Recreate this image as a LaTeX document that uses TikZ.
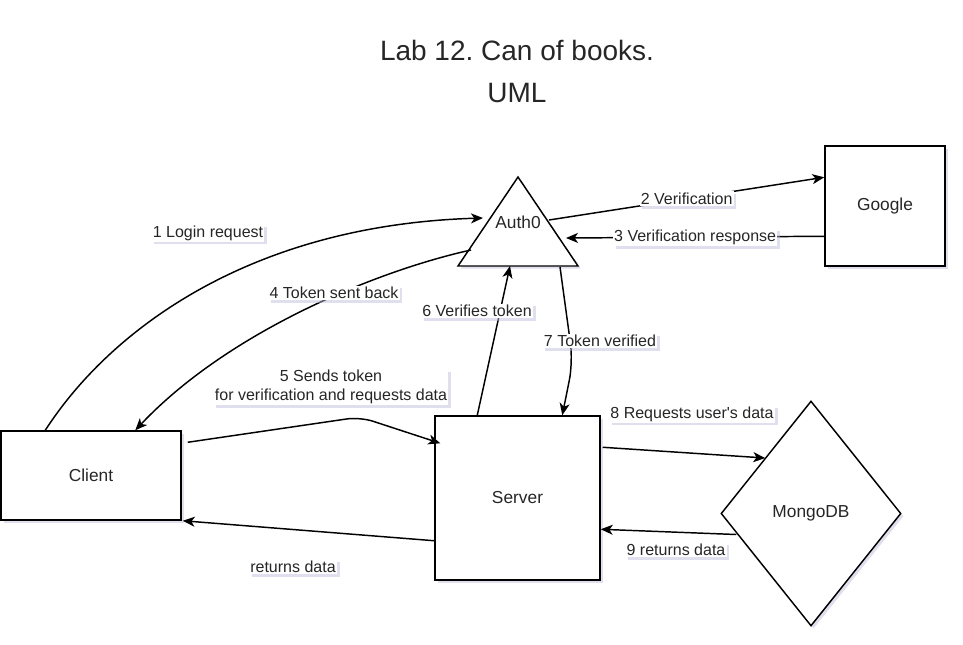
\documentclass[tikz,border=0pt]{standalone}
\usepackage{fontspec}
\setmainfont{Liberation Sans}
\usetikzlibrary{arrows.meta,shapes.geometric,shadows,calc}
\definecolor{shadowc}{RGB}{185,185,215}
\frenchspacing
\begin{document}
\begin{tikzpicture}[x=0.75pt,y=-0.75pt,
  shd/.style={drop shadow={shadow xshift=2pt,shadow yshift=-2pt,fill=shadowc,opacity=0.45}},
  box/.style={draw=black,line width=1.1pt,fill=white,shd,font=\fontsize{13}{15}\selectfont,text=black!85,inner sep=0pt},
  lbl/.style={fill=white,inner sep=1pt,font=\fontsize{12}{14}\selectfont,text=black!85,shd,align=center},
  conn/.style={draw=black,line width=1.1pt,-{Stealth[length=9pt,width=7.5pt,inset=2.5pt]}},
]
\useasboundingbox (0,0) rectangle (963,644);

% title
\node[font=\fontsize{21}{31.5}\selectfont,align=center,text=black!85] (title) at (517,71) {Lab 12. Can of books.\\UML};

% shapes
\node[box,minimum width=135pt,minimum height=66.75pt] (client) at (91,475.5) {Client};
\node[box,minimum width=123.75pt,minimum height=123pt] (server) at (517.5,498) {Server};
\node[box,minimum width=90pt,minimum height=90pt] (google) at (885,206) {Google};
\node[box,diamond,minimum width=135pt,minimum height=168.75pt] (mongo) at (811,513.5) {MongoDB};
\path[draw=black,line width=1.1pt,fill=white,shd] (518,177) -- (578,266) -- (458,266) -- cycle;
\node[font=\fontsize{13}{15}\selectfont,text=black!85] (auth) at (518,222) {Auth0};

% connectors
\draw[conn] ($(client.north west)+(45,0)$) .. controls (110,330) and (250,225) .. ($(auth)+(-35,-4)$);
\node[lbl] (l1) at (208,233) {1 Login request};

\draw[conn] ($(auth)+(31,-2)$) -- ($(google.north west)+(0,32)$) node[lbl,pos=0.5] (l2) {2 Verification};
\draw[conn] ($(google.north west)+(0,91)$) -- ($(auth)+(48,16)$) node[lbl,pos=0.5] (l3) {3 Verification response};

\draw[conn] ($(auth)+(-47,28)$) .. controls (380,270) and (230,330) .. ($(client.north west)+(135,0)$);
\node[lbl] (l4) at (334,293) {4 Token sent back};

\draw[conn,rounded corners=10pt] ($(client.north east)+(6,12)$) -- (360,417) -- ($(server.north west)+(6,28)$);
\node[lbl] (l5) at (331,387) {5 Sends token\\for verification and requests data};

\draw[conn] ($(server.north west)+(43,0)$) -- ($(auth)+(-8,44)$);
\node[lbl] (l6) at (477,311) {6 Verifies token};

\draw[conn,rounded corners=14pt] ($(auth)+(42,45)$) -- (573,362) -- ($(server.north west)+(128,0)$);
\node[lbl] (l7) at (600,341) {7 Token verified};

\draw[conn] ($(server.north east)+(2,32)$) -- ($(mongo.west)+(45,-55.5)$);
\node[lbl] (l8) at (692,414) {8 Requests user\textquotesingle s data};

\draw[conn] ($(mongo.west)+(16,21)$) -- ($(server.north east)+(0,114)$);
\node[lbl] (l9) at (676,550) {9 returns data};

\draw[conn] ($(server.south west)+(0,-40)$) -- ($(client.south east)+(1,0)$);
\node[lbl] (l10) at (293,567) {returns data};
\end{tikzpicture}
\end{document}
